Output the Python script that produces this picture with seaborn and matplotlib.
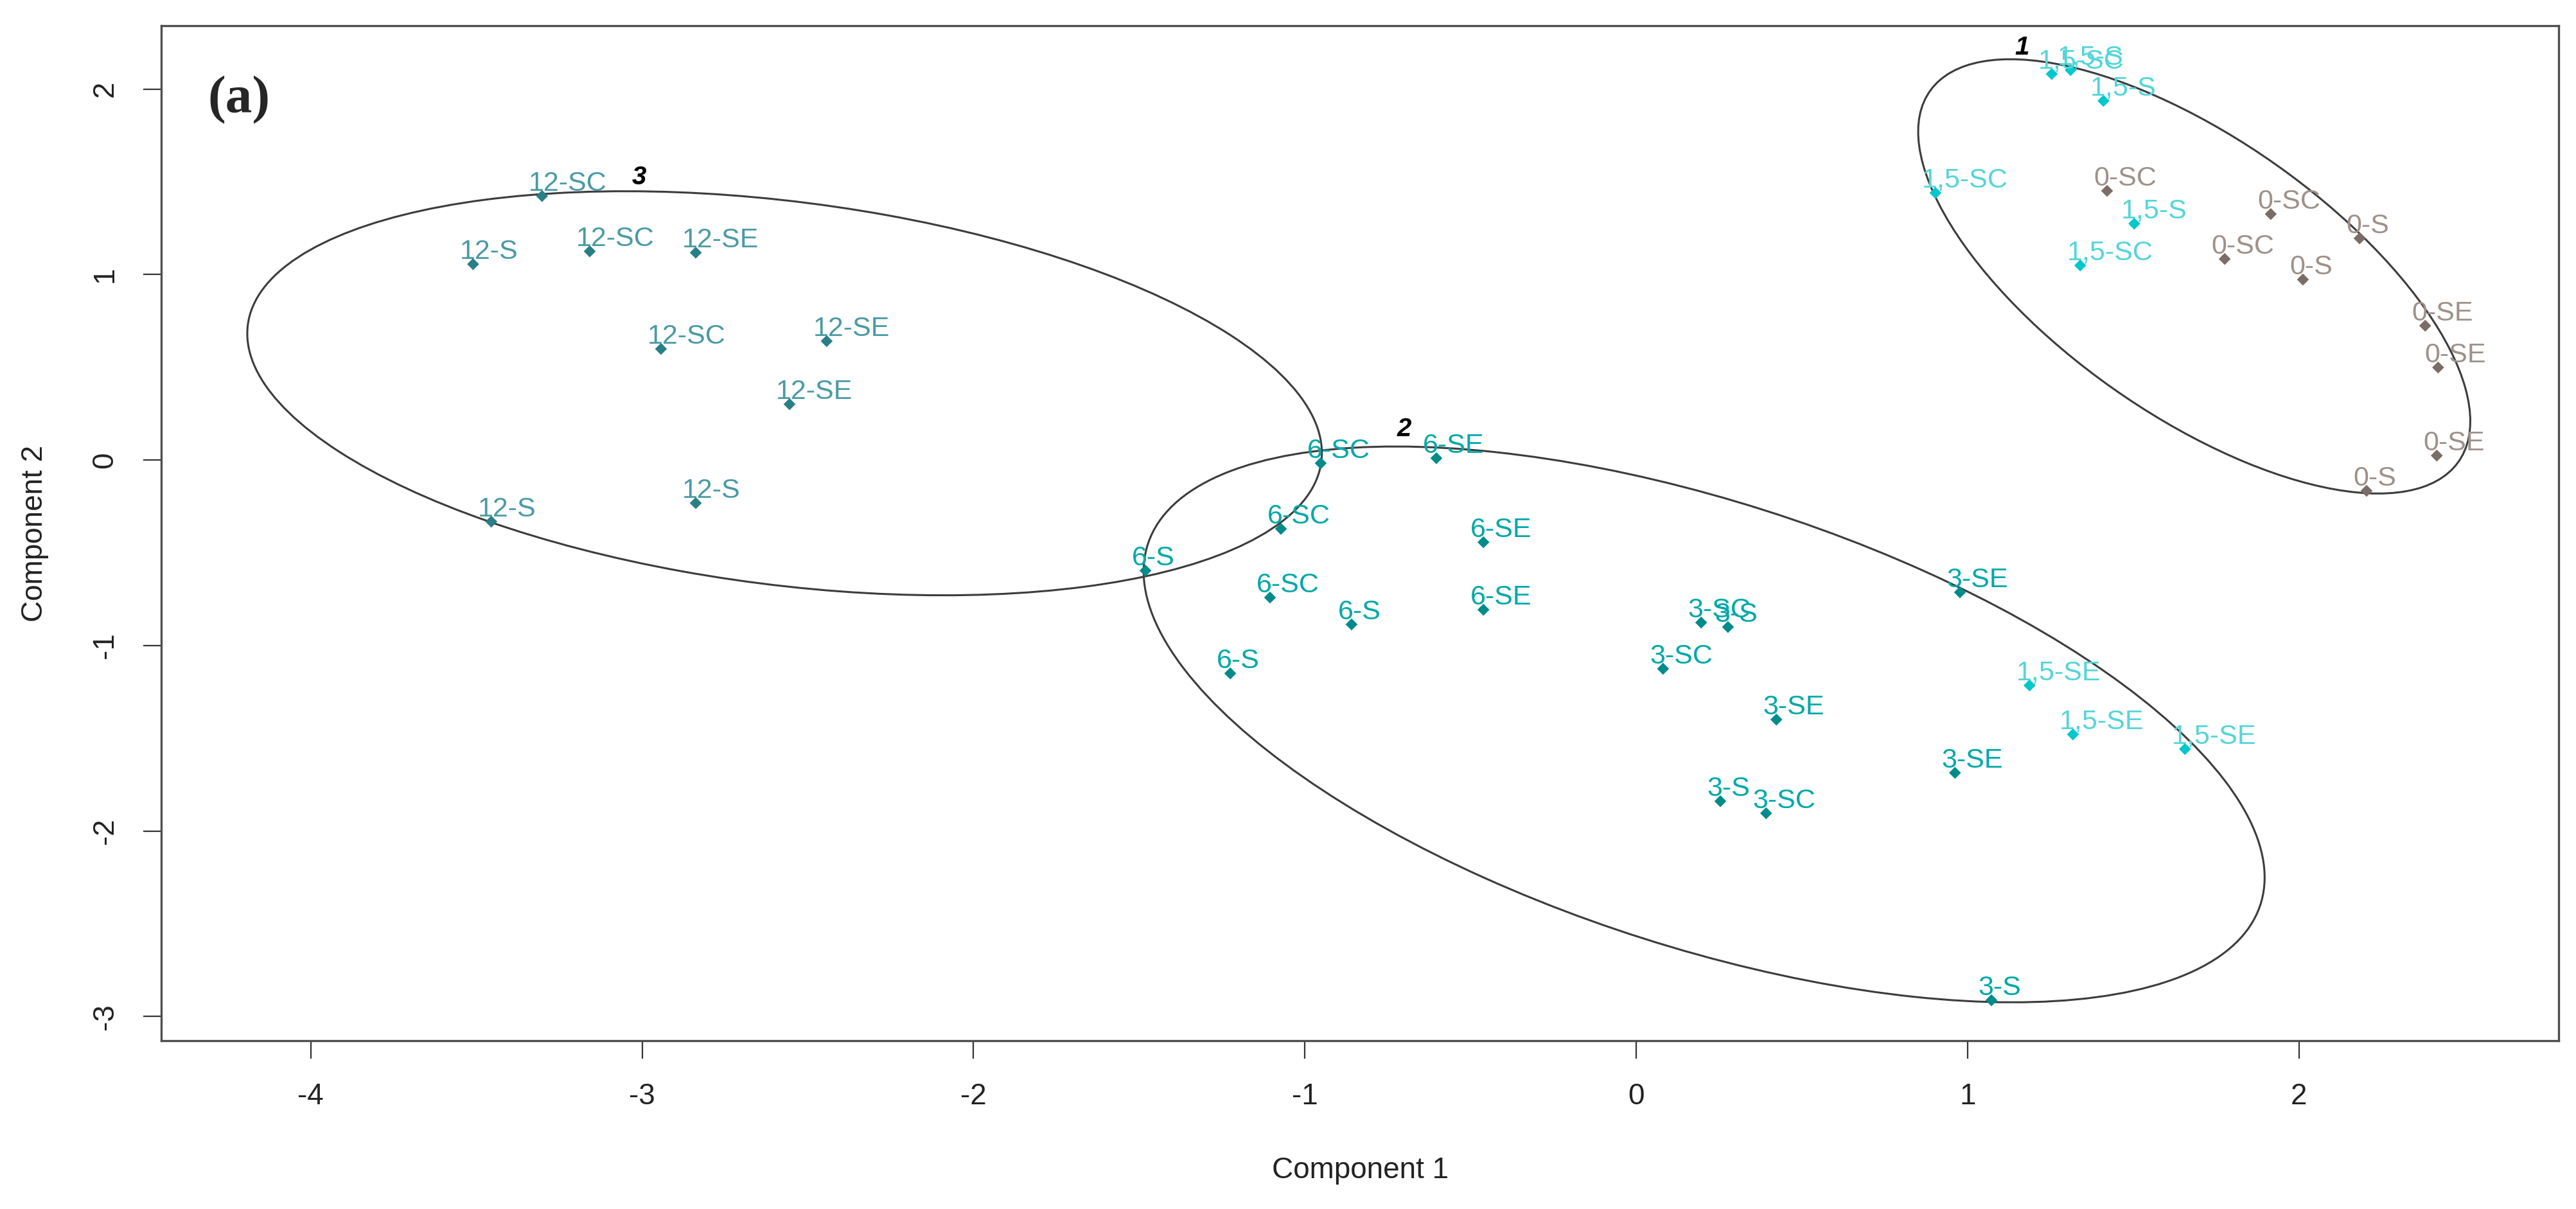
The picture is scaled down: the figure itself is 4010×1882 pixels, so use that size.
import matplotlib
matplotlib.use("Agg")
import matplotlib.pyplot as plt
import numpy as np
import pandas as pd
import seaborn as sns
from matplotlib.patches import Ellipse

# --- data (Component 1 / Component 2 scores) ---
labels_12 = ["12-SC", "12-S", "12-SC", "12-SE", "12-SC", "12-SE", "12-SE", "12-S", "12-S"]
x_12 = [-3.302, -3.510, -3.158, -2.838, -2.943, -2.443, -2.555, -3.455, -2.838]
y_12 = [1.423, 1.056, 1.125, 1.118, 0.599, 0.641, 0.301, -0.332, -0.232]

labels_6 = ["6-SC", "6-SE", "6-SC", "6-S", "6-SE", "6-SC", "6-S", "6-SE", "6-S"]
x_6 = [-0.952, -0.603, -1.072, -1.481, -0.461, -1.105, -0.859, -0.461, -1.225]
y_6 = [-0.017, 0.010, -0.371, -0.596, -0.443, -0.741, -0.886, -0.807, -1.150]

labels_3 = ["3-SC", "3-S", "3-SC", "3-SE", "3-SE", "3-SE", "3-S", "3-SC", "3-S"]
x_3 = [0.196, 0.277, 0.081, 0.977, 0.423, 0.962, 0.254, 0.392, 1.072]
y_3 = [-0.876, -0.900, -1.125, -0.713, -1.399, -1.686, -1.839, -1.904, -2.912]

labels_15 = ["1,5-SC", "1,5-S", "1,5-S", "1,5-SC", "1,5-S", "1,5-SC", "1,5-SE", "1,5-SE", "1,5-SE"]
x_15 = [1.254, 1.311, 1.410, 0.903, 1.503, 1.340, 1.187, 1.318, 1.656]
y_15 = [2.081, 2.102, 1.936, 1.440, 1.274, 1.049, -1.215, -1.479, -1.558]

labels_0 = ["0-SC", "0-SC", "0-SC", "0-S", "0-S", "0-SE", "0-SE", "0-SE", "0-S"]
x_0 = [1.421, 1.915, 1.776, 2.183, 2.012, 2.381, 2.420, 2.416, 2.204]
y_0 = [1.451, 1.326, 1.084, 1.195, 0.973, 0.724, 0.499, 0.024, -0.166]

# cluster spanning ellipses: centre and shape matrix [[sxx, sxy], [sxy, syy]]
cluster_ids = ["1", "2", "3"]
ell_cx = [1.684, 0.205, -2.57]
ell_cy = [0.99, -1.425, 0.36]
ell_sxx = [0.694, 2.861, 2.629]
ell_sxy = [-0.65, -1.395, -0.522]
ell_syy = [1.37, 2.244, 1.186]
cluster_lab_x = [1.165, -0.700, -3.009]
cluster_lab_y = [2.223, 0.166, 1.523]

x_ticks = [-4, -3, -2, -1, 0, 1, 2]
y_ticks = [-3, -2, -1, 0, 1, 2]

point_colors = {"12": "#2a7f86", "6": "#008b8b", "3": "#008b8b", "1,5": "#00c8cc", "0": "#7a6d66"}
label_colors = {"12": "#4a9aa5", "6": "#00a8a8", "3": "#00a8a8", "1,5": "#55d5d8", "0": "#9e9189"}

frames = []
for grp, lab, xs, ys in [("12", labels_12, x_12, y_12), ("6", labels_6, x_6, y_6),
                         ("3", labels_3, x_3, y_3), ("1,5", labels_15, x_15, y_15),
                         ("0", labels_0, x_0, y_0)]:
    frames.append(pd.DataFrame({"group": grp, "label": lab, "comp1": xs, "comp2": ys}))
df = pd.concat(frames, ignore_index=True)

sns.set_style("white")
plt.rcParams["font.family"] = ["Liberation Sans", "DejaVu Sans"]

fig = plt.figure(figsize=(40.10, 18.82), dpi=100)
ax = fig.add_axes([0.0626, 0.1392, 0.9307, 0.8395])

# ellipses
for i in range(len(cluster_ids)):
    cov = np.array([[ell_sxx[i], ell_sxy[i]], [ell_sxy[i], ell_syy[i]]])
    vals, vecs = np.linalg.eigh(cov)
    angle = np.degrees(np.arctan2(vecs[1, 1], vecs[0, 1]))
    e = Ellipse((ell_cx[i], ell_cy[i]), 2 * np.sqrt(vals[1]), 2 * np.sqrt(vals[0]),
                angle=angle, fill=False, edgecolor="#3c3c3c", linewidth=2.2, zorder=1)
    ax.add_patch(e)
    ax.text(cluster_lab_x[i], cluster_lab_y[i], cluster_ids[i], fontsize=29,
            fontweight="bold", style="italic", color="black", ha="center", va="center",
            zorder=4)

sns.scatterplot(data=df, x="comp1", y="comp2", hue="group", palette=point_colors,
                marker="D", s=90, edgecolor="none", legend=False, ax=ax, zorder=3)

for _, row in df.iterrows():
    ax.annotate(row["label"], (row["comp1"], row["comp2"]), xytext=(-15, 6),
                textcoords="offset points", ha="left", va="baseline",
                fontsize=31, color=label_colors[row["group"]],
                family=["Liberation Sans Narrow", "Liberation Sans"], zorder=5)

ax.set_xlim(-4.451, 2.784)
ax.set_ylim(-3.130, 2.341)
ax.set_xticks(x_ticks)
ax.set_yticks(y_ticks)
ax.set_xticklabels([str(t) for t in x_ticks])
ax.set_yticklabels([str(t) for t in y_ticks], rotation=90, va="center")
ax.tick_params(axis="both", which="major", direction="out", length=20, width=1.6,
               color="#333333", labelsize=33, labelcolor="#222222", pad=27,
               bottom=True, left=True, top=False, right=False)

for side in ["top", "right", "bottom", "left"]:
    ax.spines[side].set_visible(True)
    ax.spines[side].set_color("#4d4d4d")
    ax.spines[side].set_linewidth(2.4)

ax.set_xlabel("Component 1", fontsize=33, color="#222222")
ax.set_ylabel("Component 2", fontsize=33, color="#222222")
ax.xaxis.set_label_coords(0.5, -0.1278)
ax.xaxis.label.set_va("center")
ax.yaxis.set_label_coords(-0.0528, 0.5)
ax.yaxis.label.set_va("center")

ax.text(0.0324, 0.9266, "(a)", transform=ax.transAxes, fontsize=60, fontweight="bold",
        family=["Liberation Serif", "DejaVu Serif"], ha="center", va="center")

fig.savefig("out.png", dpi=100)
